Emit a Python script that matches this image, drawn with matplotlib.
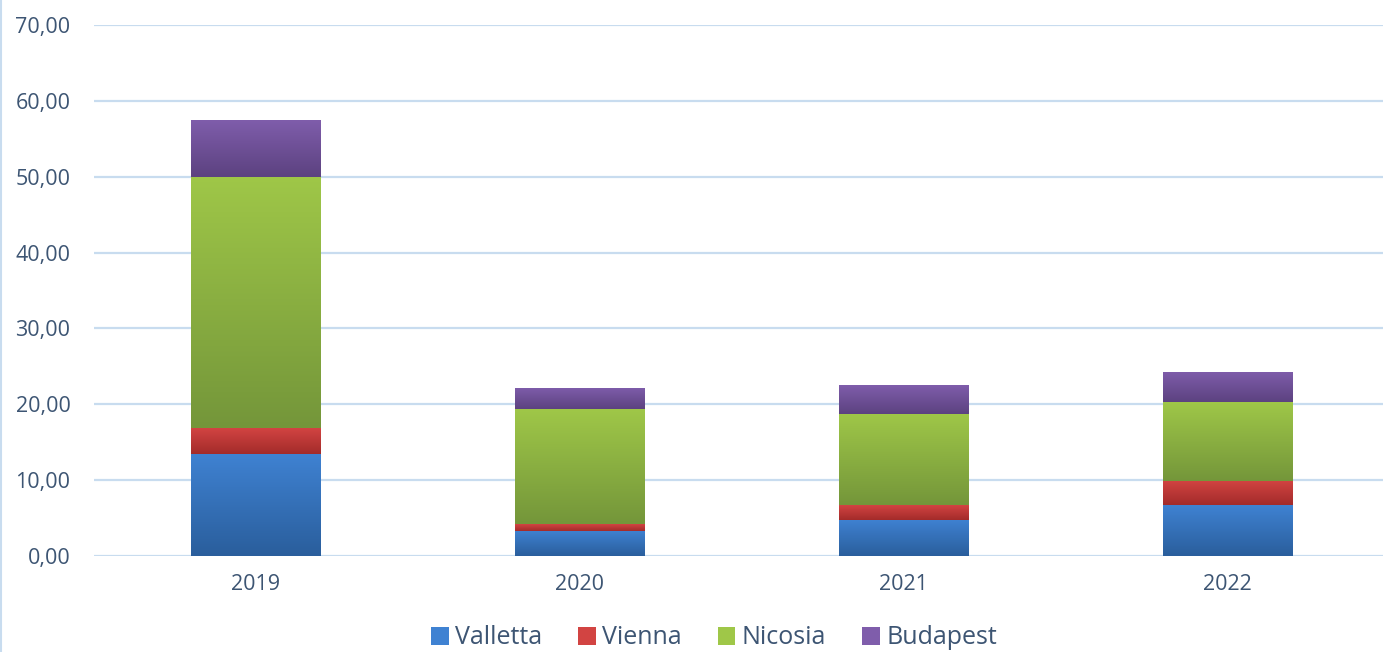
import numpy as np
import matplotlib.pyplot as plt
from matplotlib.colors import LinearSegmentedColormap
from matplotlib.patches import Patch

plt.rcParams['font.family'] = ['Open Sans', 'DejaVu Sans']

years = ['2019', '2020', '2021', '2022']
valletta = [13.45, 3.30, 4.75, 6.72]
vienna = [3.42, 0.92, 1.97, 3.17]
nicosia = [33.10, 15.16, 12.00, 10.41]
budapest = [7.50, 2.77, 3.82, 3.96]

series = [
    ('Valletta', valletta, '#3f82d2', '#2a5e9c'),
    ('Vienna', vienna, '#d24442', '#a32b2a'),
    ('Nicosia', nicosia, '#9fc748', '#74963a'),
    ('Budapest', budapest, '#7f5dab', '#5c4280'),
]

text_color = '#3d5573'
grid_color = '#c8dcef'

fig = plt.figure(figsize=(13.83, 6.52), dpi=100)
ax = fig.add_axes([94 / 1383, 96 / 652, 1289 / 1383, 531 / 652])

x = np.arange(len(years))
width = 0.40
bottom = np.zeros(len(years))
grad = np.linspace(0, 1, 256).reshape(-1, 1)

for name, vals, top_c, bot_c in series:
    bars = ax.bar(x, vals, width, bottom=bottom, color=top_c, edgecolor='none', zorder=2)
    cmap = LinearSegmentedColormap.from_list(name, [bot_c, top_c])
    # vertical gradient clipped to each bar segment
    for rect in bars:
        x0, y0 = rect.get_x(), rect.get_y()
        im = ax.imshow(grad, cmap=cmap, aspect='auto', origin='lower',
                       extent=[x0, x0 + rect.get_width(), y0, y0 + rect.get_height()],
                       zorder=3, interpolation='bilinear')
        im.set_clip_path(rect)
    bottom += np.array(vals)

ax.set_xlim(-0.5, 3.48)
ax.set_ylim(0, 70)
ax.set_yticks(np.arange(0, 71, 10))
ax.set_yticklabels([f'{v:.2f}'.replace('.', ',') for v in range(0, 71, 10)])
ax.set_xticks(x)
ax.set_xticklabels(years)

ax.grid(axis='y', color=grid_color, linewidth=1.6, zorder=0)
ax.set_axisbelow(True)
for s in ax.spines.values():
    s.set_visible(False)
ax.tick_params(axis='both', length=0, labelsize=15.5, colors=text_color)
ax.tick_params(axis='y', pad=17)
ax.tick_params(axis='x', pad=13)

# thin border along the left edge of the chart area
fig.add_artist(plt.Line2D([0.001, 0.001], [0, 1], color=grid_color, linewidth=1.5))

handles = [Patch(facecolor=top_c, edgecolor='none') for _, _, top_c, _ in series]
labels = [name for name, *_ in series]
leg = fig.legend(handles, labels, loc='center', bbox_to_anchor=(714 / 1383, 1 - 638 / 652),
                 ncol=4, frameon=False, fontsize=18, handlelength=0.7, handleheight=0.7,
                 handletextpad=0.25, columnspacing=1.45)
for t in leg.get_texts():
    t.set_color(text_color)

fig.savefig('out.png', dpi=100)
